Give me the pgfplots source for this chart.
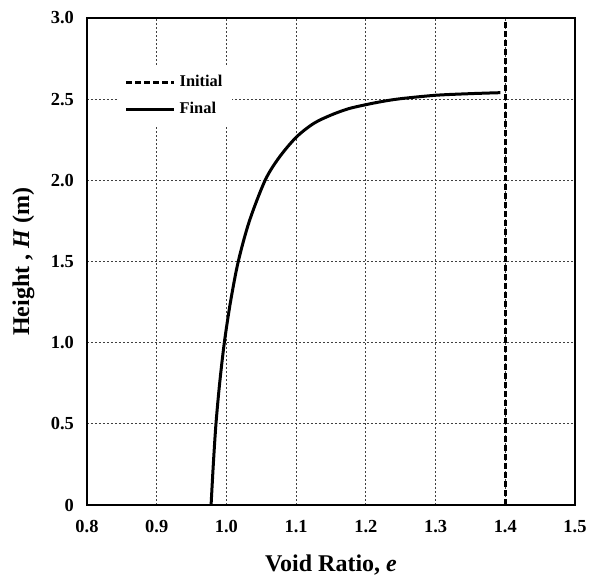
\documentclass[border=0pt]{standalone}
\usepackage{pgfplots}
\pgfplotsset{compat=1.18}
\usepackage{fontspec}
\setmainfont{Liberation Serif}
\begin{document}
\begin{tikzpicture}
\begin{axis}[
  scale only axis,
  width=244pt, height=243.5pt,
  xmin=0.8, xmax=1.5, ymin=0, ymax=3.0,
  xtick={0.8,0.9,1.0,1.1,1.2,1.3,1.4,1.5},
  xticklabels={0.8,0.9,1.0,1.1,1.2,1.3,1.4,1.5},
  ytick={0,0.5,1.0,1.5,2.0,2.5,3.0},
  yticklabels={0,0.5,1.0,1.5,2.0,2.5,3.0},
  /pgf/number format/assume math mode=true,
  major tick length=0pt,
  tick label style={font=\bfseries\fontsize{9.2}{10}\selectfont},
  xticklabel style={yshift=-4pt},
  yticklabel style={xshift=-3pt},
  grid=major,
  major grid style={black!75, line width=0.4pt, dash pattern=on 1pt off 1pt},
  axis line style={line width=1pt},
  xlabel={\bfseries Void Ratio, \textit{e}},
  ylabel={\bfseries Height , \textit{H} (m)},
  label style={font=\bfseries\fontsize{12}{14}\selectfont},
  xlabel style={at={(axis description cs:0.5,-0.123)}, anchor=center},
  ylabel style={at={(axis description cs:-0.13,0.5)}, anchor=center},
  legend style={draw=none, fill=white, at={(axis description cs:0.064,0.84)}, anchor=west,
    font=\bfseries\fontsize{8.2}{9}\selectfont, row sep=2.5pt, inner sep=3pt},
  legend cell align=left,
  legend image code/.code={\draw[#1] (0pt,0pt) -- (24pt,0pt);},
]
\addplot[black, line width=1.3pt, dash pattern=on 3pt off 1.5pt] coordinates {(1.4,0) (1.4,3.0)};
\addlegendentry{Initial}
\addplot[black, line width=1.5pt, smooth] coordinates {
(0.978,0.0) (0.9812,0.25) (0.985,0.5) (0.9903,0.75) (0.997,1.0) (1.0058,1.25)
(1.017,1.5) (1.033,1.75) (1.0555,2.0) (1.0755,2.14) (1.1,2.265) (1.125,2.35)
(1.15,2.402) (1.175,2.441) (1.2,2.466) (1.225,2.487) (1.25,2.503) (1.3,2.524)
(1.35,2.534) (1.393,2.54)};
\addlegendentry{Final}
\end{axis}
\pgfresetboundingbox
\useasboundingbox (-43.5pt,-37pt) rectangle (254.5pt,252.5pt);
\end{tikzpicture}
\end{document}
